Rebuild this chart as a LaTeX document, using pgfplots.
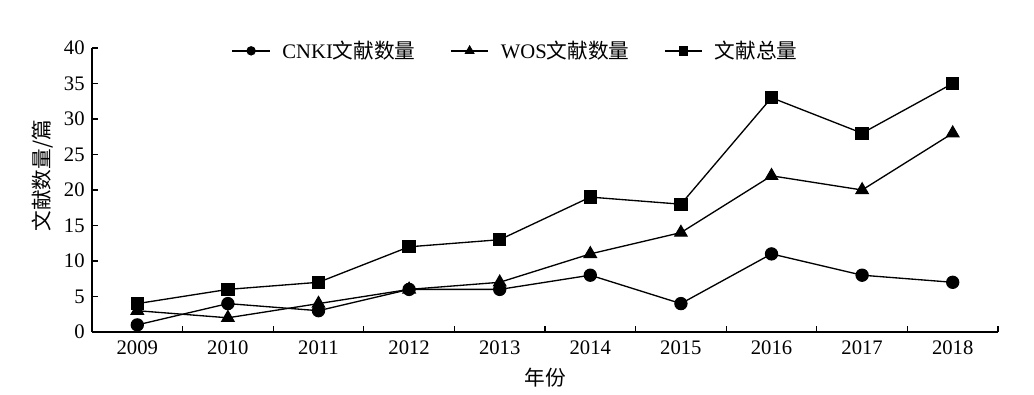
\documentclass[border=0pt]{standalone}
\usepackage{pgfplots}
\pgfplotsset{compat=1.18}
\usepackage{fontspec}
\setmainfont{Liberation Serif}
\newfontfamily\cjk{Noto Sans CJK SC}
\begin{document}
\begin{tikzpicture}
\useasboundingbox (-69pt,-47.25pt) rectangle (706.5pt,249pt);
\begin{axis}[
  scale only axis, width=679.5pt, height=213pt,
  xmin=-0.5, xmax=9.5, ymin=0, ymax=40,
  axis x line*=bottom, axis y line*=left,
  axis line style={-, line width=1pt},
  xtick={0,...,9},
  xticklabels={2009,2010,2011,2012,2013,2014,2015,2016,2017,2018},
  major x tick style={draw=none},
  minor xtick={0.5,1.5,...,9.5},
  minor tick length=4.5pt,
  ytick={0,5,...,40},
  major tick length=4.5pt,
  tick style={black, line width=0.8pt},
  tick align=inside,
  /pgf/number format/assume math mode=true,
  every tick label/.append style={font=\fontsize{15.5}{18}\selectfont},
  yticklabel style={xshift=-2pt},
  xticklabel style={yshift=-3pt},
  xlabel={\cjk 年份},
  ylabel={\cjk 文献数量/篇},
  label style={font=\fontsize{15.5}{18}\selectfont},
  xlabel style={at={(axis description cs:0.5,-0.162)}, anchor=center},
  ylabel style={at={(axis description cs:-0.055,0.55)}, anchor=center},
  legend columns=3,
  legend style={draw=none, fill=none, at={(axis description cs:0.468,0.99)}, anchor=center,
    font=\fontsize{15.5}{18}\selectfont,
    /tikz/every odd column/.append style={column sep=7pt},
    /tikz/every even column/.append style={column sep=24pt}},
  legend cell align=left,
  legend image code/.code={\draw[mark repeat=2,mark phase=2,#1] plot coordinates {(0pt,0pt)(14pt,0pt)(28pt,0pt)};},
  every axis plot/.append style={line width=1pt, black},
]
\addplot[mark=*, mark size=4.5pt, mark options={solid}, legend image post style={mark size=3pt}] coordinates {
(0,1) (1,4) (2,3) (3,6) (4,6) (5,8) (6,4) (7,11) (8,8) (9,7)};
\addlegendentry{CNKI{\cjk 文献数量}}
\addplot[mark=triangle*, mark size=5.2pt, legend image post style={mark size=3.4pt}] coordinates {
(0,3) (1,2) (2,4) (3,6) (4,7) (5,11) (6,14) (7,22) (8,20) (9,28)};
\addlegendentry{WOS{\cjk 文献数量}}
\addplot[mark=square*, mark size=4.5pt, legend image post style={mark size=3pt}] coordinates {
(0,4) (1,6) (2,7) (3,12) (4,13) (5,19) (6,18) (7,33) (8,28) (9,35)};
\addlegendentry{\cjk 文献总量}
\end{axis}
\end{tikzpicture}
\end{document}
